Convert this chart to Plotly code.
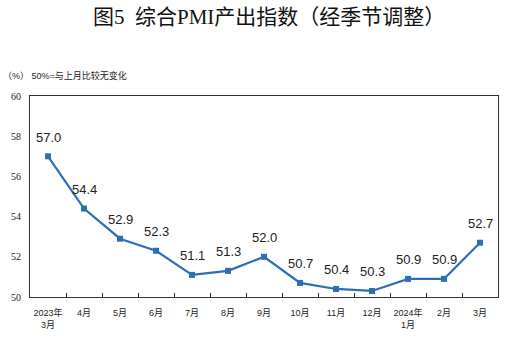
import plotly.graph_objects as go

categories = ["2023年<br>3月", "4月", "5月", "6月", "7月", "8月", "9月", "10月", "11月", "12月", "2024年<br>1月", "2月", "3月"]
values = [57.0, 54.4, 52.9, 52.3, 51.1, 51.3, 52.0, 50.7, 50.4, 50.3, 50.9, 50.9, 52.7]
y_ticks = [50, 52, 54, 56, 58, 60]

line_color = "#2F6DB5"
cjk = "Liberation Sans, Noto Sans CJK SC"

fig = go.Figure()
fig.add_trace(go.Scatter(
    x=categories, y=values, mode="lines+markers",
    line=dict(color=line_color, width=2.2),
    marker=dict(symbol="square", size=6, color=line_color),
    hoverinfo="skip", showlegend=False,
))

for c, v in zip(categories, values):
    fig.add_annotation(x=c, y=v, text=f"{v:.1f}", showarrow=False,
                       yshift=19, font=dict(family="Liberation Sans", size=13, color="#222"))

fig.add_annotation(xref="paper", yref="paper", x=0.5, y=1, yshift=79, xanchor="center", yanchor="middle",
                   xshift=5,
                   text="图5  综合PMI产出指数（经季节调整）", showarrow=False,
                   font=dict(family="Liberation Serif, Noto Sans CJK SC", size=21, color="#111"))
fig.add_annotation(xref="paper", yref="paper", x=0, xshift=-29, y=1, yshift=21, xanchor="left", yanchor="middle",
                   text="（%） 50%=与上月比较无变化", showarrow=False,
                   font=dict(family=cjk, size=9, color="#222"))

fig.update_layout(
    width=512, height=342,
    margin=dict(l=30, r=14, t=96, b=45),
    plot_bgcolor="white", paper_bgcolor="white",
    xaxis=dict(type="category", showline=True, linecolor="#333", linewidth=1, mirror=True,
               ticks="inside", tickson="boundaries", ticklen=4, tickcolor="#333",
               showgrid=False, tickangle=0, automargin=False, ticklabelstandoff=7,
               tickfont=dict(family=cjk, size=9, color="#222"),
               range=[-0.5, len(categories) - 0.5]),
    yaxis=dict(range=[50, 60], tickvals=y_ticks, showline=True, linecolor="#333", linewidth=1,
               mirror=True, showgrid=False, ticks="", zeroline=False, automargin=False,
               ticklabelstandoff=6,
               tickfont=dict(family="Liberation Serif", size=10, color="#222")),
)

fig.write_html("out.html")
